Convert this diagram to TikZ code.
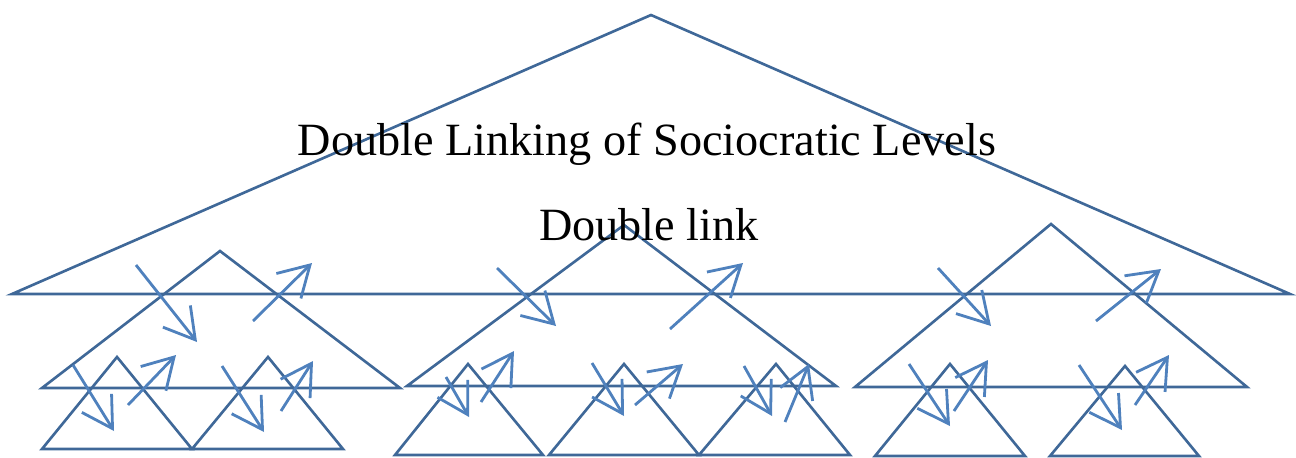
\documentclass[tikz,border=0pt]{standalone}
\usepackage{fontspec}
\setmainfont{Liberation Serif}
\usetikzlibrary{arrows.meta}
\definecolor{triblue}{RGB}{63,104,152}
\definecolor{lnkblue}{RGB}{79,129,189}
\tikzset{
  tri/.style={draw=triblue,line width=1.5pt,line join=miter},
  lnk/.style={draw=lnkblue,line width=1.6pt,-{Straight Barb[length=6mm,width=7mm]}},
  lbl/.style={font=\fontsize{26.3}{30}\selectfont,anchor=base,inner sep=0pt}
}
\begin{document}
\begin{tikzpicture}[x=0.02cm,y=-0.02cm]
\useasboundingbox (0,0) rectangle (1296,457);
% top level
\draw[tri] (651,15) -- (1290,294) -- (12,294) -- cycle;
% middle level
\draw[tri] (220,251) -- (400,388) -- (42,388) -- cycle;
\draw[tri] (624,225) -- (836,386) -- (407,386) -- cycle;
\draw[tri] (1051,224) -- (1247,387) -- (855,387) -- cycle;
% bottom level
\draw[tri] (117,357) -- (192,449) -- (42,449) -- cycle;
\draw[tri] (268,357) -- (343,449) -- (192,449) -- cycle;
\draw[tri] (468,364) -- (543,455) -- (395,455) -- cycle;
\draw[tri] (624,364) -- (699,455) -- (549,455) -- cycle;
\draw[tri] (776,364) -- (850,455) -- (699,455) -- cycle;
\draw[tri] (950,364) -- (1025,456) -- (875,456) -- cycle;
\draw[tri] (1125,366) -- (1199,456) -- (1050,456) -- cycle;
% double links, left
\draw[lnk] (136,265) -- (197,342);
\draw[lnk] (253,321) -- (312,263);
\draw[lnk] (73,365) -- (114,431);
\draw[lnk] (128,405) -- (176,355);
\draw[lnk] (222,366) -- (264,432);
\draw[lnk] (281,411) -- (313,361);
% double links, middle
\draw[lnk] (497,268) -- (556,326);
\draw[lnk] (670,329) -- (743,263);
\draw[lnk] (446,377) -- (469,417);
\draw[lnk] (481,402) -- (514,351);
\draw[lnk] (592,363) -- (624,416);
\draw[lnk] (635,405) -- (683,364);
\draw[lnk] (744,366) -- (772,416);
\draw[lnk] (785,422) -- (809,364);
% double links, right
\draw[lnk] (938,268) -- (991,326);
\draw[lnk] (1096,321) -- (1161,269);
\draw[lnk] (909,364) -- (950,426);
\draw[lnk] (954,411) -- (988,360);
\draw[lnk] (1079,365) -- (1122,430);
\draw[lnk] (1135,405) -- (1169,355);
% labels
\node[lbl] (title) at (647,155) {Double Linking of Sociocratic Levels};
\node[lbl] (dlink) at (649,240) {Double link};
\end{tikzpicture}
\end{document}
